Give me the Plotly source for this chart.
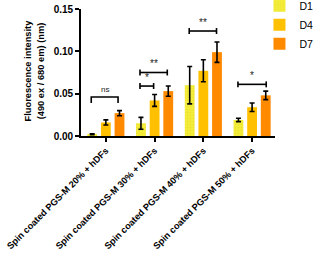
import plotly.graph_objects as go

categories = ["Spin coated PGS-M 20% + hDFs", "Spin coated PGS-M 30% + hDFs",
              "Spin coated PGS-M 40% + hDFs", "Spin coated PGS-M 50% + hDFs"]
series_names = ["D1", "D4", "D7"]
d1 = [0.002, 0.015, 0.060, 0.019]
d1_err = [0.0005, 0.007, 0.022, 0.002]
d4 = [0.016, 0.042, 0.077, 0.034]
d4_err = [0.003, 0.007, 0.013, 0.005]
d7 = [0.027, 0.053, 0.099, 0.048]
d7_err = [0.003, 0.006, 0.012, 0.005]
y_ticks = [0.00, 0.05, 0.10, 0.15]

# significance brackets: (category index, from offset, to offset, height, label, style)
sig_cat = [0, 1, 1, 2, 3]
sig_from = [-0.30, -0.30, -0.30, -0.29, -0.29]
sig_to = [0.25, -0.02, 0.26, 0.27, 0.29]
sig_y = [0.046, 0.059, 0.075, 0.124, 0.061]
sig_label = ["ns", "*", "**", "**", "*"]
sig_style = ["down", "cap", "cap", "cap", "cap"]

colors = ["#F3EC3A", "#FFC000", "#FF8A00"]
xs = list(range(len(categories)))

fig = go.Figure()
for name, vals, errs, col in zip(series_names, [d1, d4, d7], [d1_err, d4_err, d7_err], colors):
    marker = dict(color=col, line=dict(width=0))
    if name == "D1":
        marker["pattern"] = dict(shape=".", fgcolor="#E0D820", bgcolor=col, size=3, solidity=0.2)
    fig.add_trace(go.Bar(
        x=xs, y=vals, name=name, marker=marker,
        error_y=dict(type="data", array=errs, color="black", thickness=1.6, width=2.5),
    ))

cap = 0.0035
for c, a, b, yv, lab, st in zip(sig_cat, sig_from, sig_to, sig_y, sig_label, sig_style):
    x0, x1 = c + a, c + b
    if st == "down":
        px = [x0, x0, x1, x1]
        py = [yv - 2 * cap, yv, yv, yv - 2 * cap]
    else:
        px = [x0, x0, None, x0, x1, None, x1, x1]
        py = [yv - cap, yv + cap, None, yv, yv, None, yv - cap, yv + cap]
    fig.add_trace(go.Scatter(x=px, y=py, mode="lines", line=dict(color="black", width=1.6),
                             showlegend=False, hoverinfo="skip"))
    fig.add_annotation(x=(x0 + x1) / 2, y=yv + cap * 0.4, text=lab, showarrow=False,
                       yanchor="bottom", font=dict(size=8 if lab == "ns" else 10, color="#222222",
                                                   family="Liberation Sans"))

fig.add_annotation(
    xref="paper", yref="paper", x=-0.24, y=0.52, xanchor="center", yanchor="middle",
    textangle=-90, showarrow=False,
    text="<b>Fluorescence intensity<br>(490 ex / 680 em) (nm)</b>",
    font=dict(size=9.3, family="Liberation Sans", color="black"),
)

fig.update_layout(
    width=314, height=254,
    margin=dict(l=81, r=39, t=9, b=118, autoexpand=False),
    paper_bgcolor="white", plot_bgcolor="white",
    barmode="group", bargap=0.16, bargroupgap=0.28,
    font=dict(family="Liberation Sans", color="black"),
    legend=dict(x=0.92, y=1.14, xanchor="left", yanchor="top",
                font=dict(size=10.5, family="Liberation Sans"), tracegroupgap=0,
                itemsizing="constant", bgcolor="rgba(0,0,0,0)"),
    showlegend=True,
)
fig.update_xaxes(
    range=[-0.51, 3.47], tickvals=xs, ticktext=["<b>%s</b>" % c for c in categories],
    tickangle=-45, tickfont=dict(size=9.2, family="Liberation Sans"), automargin=False,
    showline=True, linecolor="black", linewidth=1.6,
    ticks="outside", ticklen=4, tickwidth=1.6, tickcolor="black",
    showgrid=False, zeroline=False,
)
fig.update_yaxes(
    range=[0, 0.15], tickvals=y_ticks, ticktext=["<b>%.2f</b>" % v for v in y_ticks],
    tickfont=dict(size=10, family="Liberation Sans"), automargin=False,
    showline=True, linecolor="black", linewidth=1.6,
    ticks="outside", ticklen=4, tickwidth=1.6, tickcolor="black",
    showgrid=False, zeroline=False,
)

fig.write_html("out.html", config={"displayModeBar": False},
               post_script="document.body.style.margin='0';")
